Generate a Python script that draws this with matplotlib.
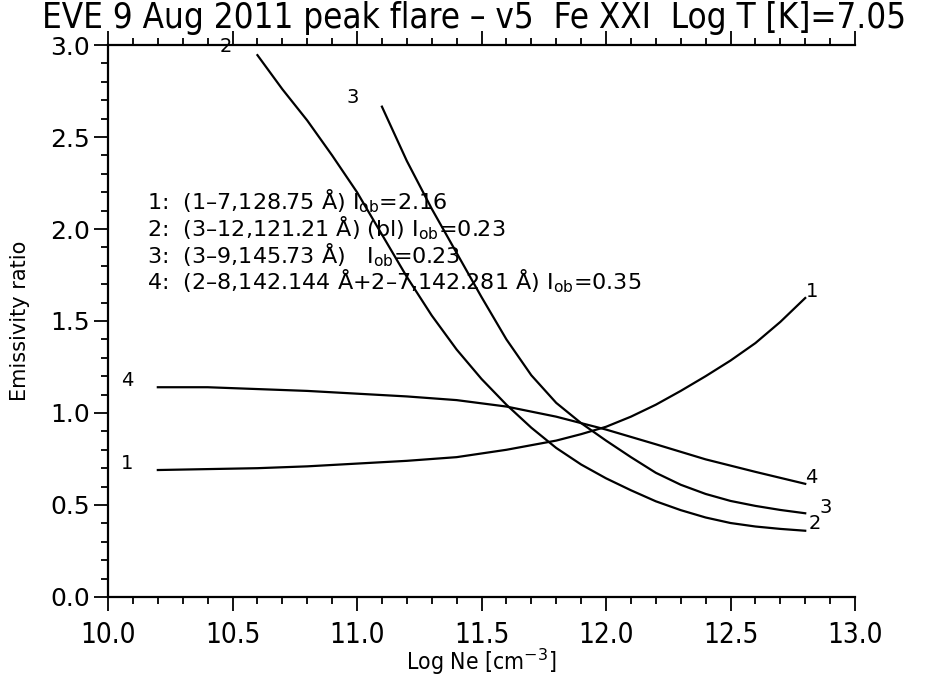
import matplotlib
matplotlib.use("Agg")
import matplotlib.pyplot as plt
from matplotlib.ticker import MultipleLocator

plt.rcParams["font.family"] = ["DejaVu Sans"]
NARROW = dict(family=["DejaVu Sans"], stretch="condensed")

# Fe XXI emissivity ratios vs log electron density
ne_1 = [10.2, 10.4, 10.6, 10.8, 11.0, 11.2, 11.4, 11.6, 11.8, 11.9, 12.0, 12.1,
        12.2, 12.3, 12.4, 12.5, 12.6, 12.7, 12.8]
ratio_1 = [0.69, 0.695, 0.70, 0.71, 0.725, 0.74, 0.76, 0.80, 0.85, 0.885, 0.925, 0.98,
           1.045, 1.12, 1.20, 1.285, 1.38, 1.495, 1.625]

ne_2 = [10.6, 10.7, 10.8, 10.9, 11.0, 11.1, 11.2, 11.3, 11.4, 11.5, 11.6, 11.7,
        11.8, 11.9, 12.0, 12.1, 12.2, 12.3, 12.4, 12.5, 12.6, 12.7, 12.8]
ratio_2 = [2.945, 2.76, 2.59, 2.40, 2.20, 1.97, 1.74, 1.53, 1.345, 1.185, 1.045, 0.92,
           0.81, 0.72, 0.645, 0.58, 0.52, 0.472, 0.432, 0.402, 0.383, 0.37, 0.36]

ne_3 = [11.1, 11.2, 11.3, 11.4, 11.5, 11.6, 11.7, 11.8, 11.9, 12.0, 12.1, 12.2,
        12.3, 12.4, 12.5, 12.6, 12.7, 12.8]
ratio_3 = [2.665, 2.37, 2.11, 1.87, 1.63, 1.40, 1.205, 1.055, 0.945, 0.85, 0.76, 0.675,
           0.61, 0.56, 0.522, 0.495, 0.473, 0.455]

ne_4 = [10.2, 10.4, 10.6, 10.8, 11.0, 11.2, 11.4, 11.6, 11.8, 12.0, 12.2, 12.4, 12.6, 12.8]
ratio_4 = [1.14, 1.14, 1.13, 1.12, 1.105, 1.09, 1.07, 1.035, 0.98, 0.91, 0.83, 0.748, 0.68, 0.615]

line_ids = ["1", "2", "3", "4"]
line_desc = [
    "(1\u20137,128.75 \u00c5) I$_{\\rm ob}$=2.16",
    "(3\u201312,121.21 \u00c5) (bl) I$_{\\rm ob}$=0.23",
    "(3\u20139,145.73 \u00c5)   I$_{\\rm ob}$=0.23",
    "(2\u20138,142.144 \u00c5+2\u20137,142.281 \u00c5) I$_{\\rm ob}$=0.35",
]

title = "EVE 9 Aug 2011 peak flare \u2013 v5  Fe XXI  Log T [K]=7.05"

# label offsets (points) at the start and end of each curve
start_off = [(-22, 4.5), (-23, 6), (-21, 6.5), (-22, 4.5)]
end_off = [(5, 4.5), (7, 5.5), (15, 4), (4, 4.5)]

fig = plt.figure(figsize=(9.37, 6.79), dpi=100)
ax = fig.add_axes([0.1153, 0.1208, 0.7972, 0.8129])

curves = [(ne_1, ratio_1), (ne_2, ratio_2), (ne_3, ratio_3), (ne_4, ratio_4)]
for x, y in curves:
    ax.plot(x, y, color="black", lw=1.6)

ax.set_xlim(10.0, 13.0)
ax.set_ylim(0.0, 3.0)

ax.spines["right"].set_visible(False)
for s in ax.spines.values():
    s.set_linewidth(1.6)

ax.xaxis.set_major_locator(MultipleLocator(0.5))
ax.xaxis.set_minor_locator(MultipleLocator(0.1))
ax.yaxis.set_major_locator(MultipleLocator(0.5))
ax.yaxis.set_minor_locator(MultipleLocator(0.1))
ax.tick_params(which="both", direction="out", top=True, right=False, width=1.3)
ax.tick_params(which="major", length=10)
ax.tick_params(which="minor", length=5)
ax.tick_params(axis="x", which="both", labeltop=False, pad=7)
ax.tick_params(axis="y", labelsize=18, pad=3)

ax.set_xticks([10.0, 10.5, 11.0, 11.5, 12.0, 12.5, 13.0])
ax.set_xticklabels([f"{v:.1f}" for v in ax.get_xticks()], fontsize=20, **NARROW)
ax.set_yticks([0.0, 0.5, 1.0, 1.5, 2.0, 2.5, 3.0])
ax.set_yticklabels([f"{v:.1f}" for v in ax.get_yticks()])

ax.set_xlabel("Log Ne [cm$^{-3}$]", fontsize=16.5, **NARROW)
ax.xaxis.set_label_coords(0.5, -0.09)
ax.set_ylabel("Emissivity ratio", fontsize=15)
ax.yaxis.set_label_coords(-0.104, 0.5)

fig.text(0.506, 0.999, title, ha="center", va="top", fontsize=25, **NARROW)

# numbers at both ends of each curve
for lid, (x, y), so, eo in zip(line_ids, curves, start_off, end_off):
    ax.annotate(lid, (x[0], y[0]), xytext=so, textcoords="offset points",
                ha="center", va="center", fontsize=14)
    ax.annotate(lid, (x[-1], y[-1]), xytext=eo, textcoords="offset points",
                ha="center", va="center", fontsize=14)

# line identification list
for i, (lid, desc) in enumerate(zip(line_ids, line_desc)):
    ax.text(10.157, 2.15 - i * 0.145, f"{lid}:  {desc}", fontsize=16,
            ha="left", va="center")

fig.savefig("out.png", dpi=100)
